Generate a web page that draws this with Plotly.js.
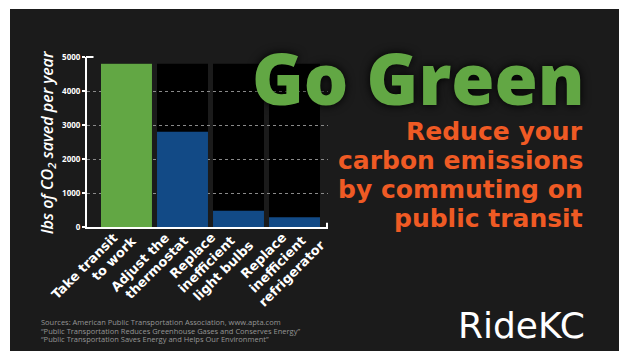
<!DOCTYPE html>
<html>
<head>
<meta charset="utf-8">
<script src="https://cdn.plot.ly/plotly-3.0.1.min.js"></script>
<style>
  html, body { margin: 0; padding: 0; background: #ffffff; width: 619px; height: 360px; overflow: hidden; }
  #chart { position: absolute; left: 10px; top: 9px; width: 609px; height: 342px; }
</style>
</head>
<body>
<div id="chart"></div>
<script>
// ---- data ----
const categories = ['Take transit<br>to work', 'Adjust the<br>thermostat', 'Replace<br>inefficient<br>light bulbs', 'Replace<br>inefficient<br>refrigerator'];
const savings = [4800, 2800, 480, 285];
const barColors = ['#62a744', '#124a86', '#124a86', '#124a86'];
const backgroundMax = 4800;
const yTickValues = [0, 1000, 2000, 3000, 4000, 5000];
const yTickLabels = ['0', '1000', '2000', '3000', '4000', '5000'];
const yTitle = 'lbs of CO<sub>2</sub> saved per year';
const headline = 'Go Green';
const subLines = ['Reduce your', 'carbon emissions', 'by commuting on', 'public transit'];
const sourceLines = [
  'Sources: American Public Transportation Association, www.apta.com',
  '\u201cPublic Transportation Reduces Greenhouse Gases and Conserves Energy\u201d',
  '\u201cPublic Transportation Saves Energy and Helps Our Environment\u201d'
];
const brand = 'RideKC';

// ---- layout geometry (page pixels) ----
const OFF = {x: 10, y: 9};
const W = 609, H = 342;
const PLOT = {left: 87, right: 328, top: 56.7, bottom: 226.7};
const pw = PLOT.right - PLOT.left, ph = PLOT.bottom - PLOT.top;
const px = x => (x - PLOT.left) / pw;
const py = y => (PLOT.bottom - y) / ph;
const bargap = 0.09;
const halfBar = (1 - bargap) / 2;
const labelNudge = [0, -4, -4, 11];   // horizontal label offsets in px (style)

const FONT = 'Open Sans, Noto Sans, sans-serif';
const WIDE = 'DejaVu Sans, Verdana, sans-serif';

const trace = {
  type: 'bar',
  x: categories.map((c, i) => i),
  y: savings,
  marker: {color: barColors, line: {width: 0}},
  hoverinfo: 'skip'
};

const shapes = categories.map((c, i) => ({
  type: 'rect', xref: 'x', yref: 'y', layer: 'below',
  x0: i - halfBar, x1: i + halfBar, y0: 0, y1: backgroundMax,
  fillcolor: '#000000', line: {width: 0}
}));
shapes.push({type: 'line', xref: 'paper', yref: 'paper', x0: px(86), x1: px(93.5), y0: 1, y1: 1, line: {color: '#ffffff', width: 2}});
shapes.push({type: 'line', xref: 'paper', yref: 'paper', x0: px(327), x1: px(327), y0: 0, y1: py(222.5), line: {color: '#ffffff', width: 2}});

const annotations = [];
annotations.push({
  xref: 'paper', yref: 'paper', x: px(587), y: py(78), xanchor: 'right', yanchor: 'middle',
  text: headline, showarrow: false,
  font: {family: FONT, size: 70, color: '#62a744', weight: 800, shadow: '0px 0px 10px #000000'}
});
const subCenters = [131, 160, 189, 218];
subLines.forEach((t, i) => annotations.push({
  xref: 'paper', yref: 'paper', x: px(585), y: py(subCenters[i]), xanchor: 'right', yanchor: 'middle',
  text: t, showarrow: false,
  font: {family: WIDE, size: 25, color: '#ef5a24', weight: 700}
}));
const srcCenters = [321.5, 330.5, 339];
sourceLines.forEach((t, i) => annotations.push({
  xref: 'paper', yref: 'paper', x: px(39), y: py(srcCenters[i]), xanchor: 'left', yanchor: 'middle',
  text: t, showarrow: false,
  font: {family: FONT, size: 7.5, color: '#959595'}
}));
annotations.push({
  xref: 'paper', yref: 'paper', x: px(587), y: py(325), xanchor: 'right', yanchor: 'middle',
  text: brand, showarrow: false,
  font: {family: WIDE, size: 36, color: '#ffffff'}
});
annotations.push({
  xref: 'paper', yref: 'paper', x: px(47), y: py(141.7), xanchor: 'center', yanchor: 'middle',
  text: yTitle, textangle: -90, showarrow: false,
  font: {family: FONT, size: 16, color: '#ffffff', style: 'italic', weight: 600}
});
// category labels: one rotated line each, placed from the category's position on the x scale
const LINE_DX = 19, LINE_DY = 3.5;
categories.forEach((c, i) => {
  const lines = c.split('<br>');
  const n = lines.length;
  lines.forEach((t, k) => annotations.push({
    xref: 'x', yref: 'paper', x: i, y: py(227 + k * LINE_DY),
    xshift: 6 + (k - (n - 1) / 2) * LINE_DX + labelNudge[i],
    xanchor: 'right', yanchor: 'top', textangle: -45,
    text: t, showarrow: false,
    font: {family: WIDE, size: 13, color: '#ffffff', weight: 700}
  }));
});

const layout = {
  width: W, height: H,
  paper_bgcolor: '#1b1b1b', plot_bgcolor: 'rgba(0,0,0,0)',
  margin: {l: PLOT.left - OFF.x, r: OFF.x + W - PLOT.right, t: PLOT.top - OFF.y, b: OFF.y + H - PLOT.bottom, pad: 0},
  showlegend: false,
  bargap: bargap,
  xaxis: {
    type: 'linear', range: [-0.705, 3.598],
    showticklabels: false, showgrid: false, zeroline: false,
    showline: true, linecolor: '#ffffff', linewidth: 2,
    ticks: '', fixedrange: true
  },
  yaxis: {
    range: [0, 5000], tickvals: yTickValues, ticktext: yTickLabels,
    showgrid: true, gridcolor: '#8a8a8a', griddash: 'dot', gridwidth: 1,
    zeroline: false, showline: true, linecolor: '#ffffff', linewidth: 2,
    ticks: 'outside', ticklen: 3, tickwidth: 1.5, tickcolor: '#ffffff',
    tickfont: {family: FONT, size: 8, color: '#ffffff', weight: 700},
    fixedrange: true
  },
  shapes: shapes,
  annotations: annotations
};

Plotly.newPlot('chart', [trace], layout, {displayModeBar: false, staticPlot: true});
</script>
</body>
</html>
